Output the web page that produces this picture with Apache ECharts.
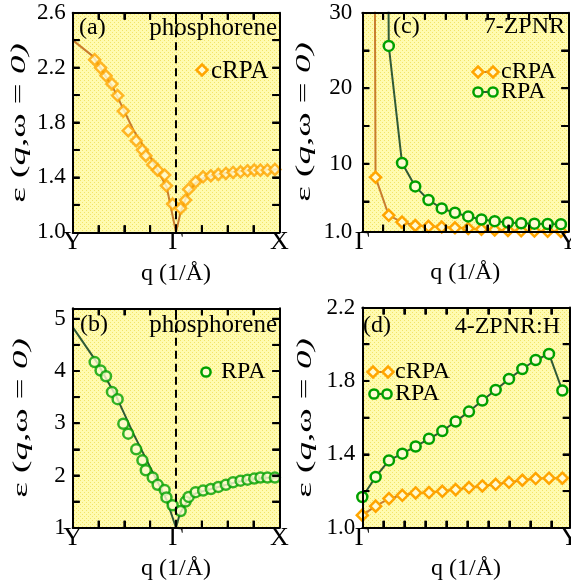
<!DOCTYPE html>
<html><head><meta charset="utf-8">
<script src="https://cdn.jsdelivr.net/npm/echarts@6.0.0/dist/echarts.min.js"></script>
<style>html,body{margin:0;padding:0;background:#fff;}#c{width:571px;height:583px;}</style>
</head><body><div id="c"></div>
<script>
// ---------------- data ----------------
const qPhos = [0.85,1.08,1.29,1.52,1.74,1.96,2.15,2.46,2.70,2.83,3.10,3.29,3.56,3.63,3.87,
               4.18,4.37,4.49,4.76,5.05,5.35,5.64,5.93,6.21,6.50,6.77,7.03,7.27,7.54,7.83];
const epsCRPAPhos = [2.258,2.198,2.140,2.081,1.996,1.883,1.740,1.667,1.599,1.558,1.492,1.453,1.417,1.339,1.206,
                     1.175,1.235,1.313,1.368,1.404,1.412,1.422,1.429,1.436,1.441,1.448,1.453,1.453,1.453,1.458];
const epsRPAPhos = [4.17,4.01,3.90,3.60,3.46,2.99,2.80,2.50,2.29,2.10,1.96,1.82,1.72,1.58,1.43,
                    1.32,1.50,1.59,1.68,1.71,1.74,1.78,1.82,1.87,1.90,1.92,1.94,1.96,1.96,1.96];
const fitCRPAQ   = [0,0.8,1.57,2.35,3.0,3.64,4.0,4.17,4.35,4.5,4.77,5.06,5.5,6.0,6.5,7.0,7.5,8.0];
const fitCRPAEps = [2.40,2.28,2.05,1.745,1.55,1.33,1.0,1.14,1.235,1.30,1.36,1.395,1.415,1.435,1.447,1.455,1.458,1.46];
const fitRPAQ    = [0,0.93,1.70,2.35,2.99,3.64,4.0,4.15,4.39,4.53,4.77,5.06,5.5,6.0,6.5,7.0,7.5,8.0];
const fitRPAEps  = [4.84,4.17,3.50,2.80,2.17,1.53,1.0,1.27,1.47,1.57,1.66,1.70,1.76,1.83,1.89,1.93,1.955,1.965];

const qRibbon = [0,0.0635,0.127,0.1905,0.254,0.3175,0.381,0.4445,0.508,0.5715,0.635,0.6985,0.762,0.8255,0.889,0.9525];
const eps7CRPA = [500,8.2,3.17,2.27,1.82,1.72,1.62,1.52,1.42,1.32,1.24,1.17,1.12,1.08,1.05,1.03];
const eps7RPA  = [1000,300,25.6,10.1,7.0,5.2,4.08,3.51,3.02,2.62,2.40,2.22,2.12,2.06,2.02,2.00];
const eps4CRPA = [1.069,1.118,1.159,1.177,1.190,1.192,1.199,1.208,1.219,1.228,1.237,1.248,1.259,1.268,1.270,1.270];
const eps4RPA  = [1.168,1.277,1.367,1.404,1.443,1.485,1.527,1.579,1.633,1.693,1.751,1.811,1.865,1.914,1.947,1.748];

const phosTickPos = [0,4,8];
const phosTickLabels = ['Y','Γ','X'];
const phosMinorTicks = [1,2,3,4,5,6,7];
const ribbonTickPos = [0,0.988];
const ribbonTickLabels = ['Γ','Y'];
const ribbonMinorTicks = [0.1,0.2,0.3,0.4,0.5,0.6,0.7,0.8,0.9];

const yTicksA = [1.2,1.4,1.6,1.8,2.0,2.2,2.4];
const yLabelsA = [1.0,1.4,1.8,2.2,2.6];
const yTicksB = [1.5,2,2.5,3,3.5,4,4.5,5];
const yLabelsB = [1,2,3,4,5];
const yTicksC = [5,10,15,20,25];
const yLabelsC = [1,10,20,30];
const yTicksD = [1.2,1.4,1.6,1.8,2.0];
const yLabelsD = [1.0,1.4,1.8,2.2];

// ---------------- styling ----------------
const FONT = 'Liberation Serif';
const ORANGE = '#ffa500', ORANGE_LINE = '#c97d2e';
const GREEN = '#00a000', GREEN_LINE = '#2f5a36';
const MARK_FILL = '#fffbd2';
const TICK_LEN = 7;

const pc = document.createElement('canvas');
pc.width = 4; pc.height = 4;
const pctx = pc.getContext('2d');
pctx.fillStyle = '#fffbb0'; pctx.fillRect(0,0,4,4);
pctx.fillStyle = '#f2e468';
pctx.fillRect(0,0,1,1); pctx.fillRect(2,2,1,1);
const bgPattern = {image: pc, repeat: 'repeat'};

const zip = (a,b) => a.map((v,i)=>[v,b[i]]);

const gridBoxes = [
  {left:72.7, top:12.7, width:206.6, height:219.6},
  {left:72.7, top:308.3, width:206.6, height:219.4},
  {left:362.3, top:12.7, width:206, height:219},
  {left:362.3, top:307.5, width:207.5, height:220.3}
];
const grids = gridBoxes.map(g => Object.assign({show:false, containLabel:false, outerBoundsMode:'none'}, g));

const axLine = {show:true, onZero:false, lineStyle:{color:'#000', width:2}};
const axTick = vals => ({show:true, inside:true, length:TICK_LEN, customValues:vals, lineStyle:{color:'#000', width:2}});

const panels = [
  {xmin:0,xmax:8,xt:phosMinorTicks,xlp:phosTickPos,xll:phosTickLabels,ymin:1,ymax:2.6,yt:yTicksA,ylp:yLabelsA,yf:v=>v.toFixed(1),ym:7},
  {xmin:0,xmax:8,xt:phosMinorTicks,xlp:phosTickPos,xll:phosTickLabels,ymin:1,ymax:5.2,yt:yTicksB,ylp:yLabelsB,yf:v=>String(Math.round(v)),ym:7},
  {xmin:0,xmax:0.988,xt:ribbonMinorTicks,xlp:ribbonTickPos,xll:ribbonTickLabels,ymin:1,ymax:30,yt:yTicksC,ylp:yLabelsC,yf:v=>(Math.abs(v-1)<1e-6?'1.0':String(Math.round(v))),ym:10},
  {xmin:0,xmax:0.988,xt:ribbonMinorTicks,xlp:ribbonTickPos,xll:ribbonTickLabels,ymin:1,ymax:2.2,yt:yTicksD,ylp:yLabelsD,yf:v=>v.toFixed(1),ym:7}
];

const xAxes = [], yAxes = [];
panels.forEach((p,i) => {
  const xfmt = v => { let k=0, best=1e9; p.xlp.forEach((pv,j)=>{const d=Math.abs(pv-v); if(d<best){best=d;k=j;}}); return p.xll[k]; };
  xAxes.push({type:'value', gridIndex:i, position:'bottom', min:p.xmin, max:p.xmax, z:10,
    axisLine:axLine, axisTick:axTick(p.xt), splitLine:{show:false},
    axisLabel:{show:true, customValues:p.xlp, formatter:xfmt, showMinLabel:true, showMaxLabel:true, hideOverlap:false,
      fontFamily:FONT, fontWeight:'normal', fontSize:26, color:'#000', margin:10, verticalAlign:'middle'},
    name:'q (1/Å)', nameLocation:'middle', nameGap:41,
    nameTextStyle:{fontFamily:FONT, fontWeight:'normal', fontSize:24, color:'#000', verticalAlign:'middle'}});
  xAxes.push({type:'value', gridIndex:i, position:'top', min:p.xmin, max:p.xmax, z:10,
    axisLine:axLine, axisTick:axTick(p.xt), splitLine:{show:false}, axisLabel:{show:false}});
  yAxes.push({type:'value', gridIndex:i, position:'left', min:p.ymin, max:p.ymax, z:10,
    axisLine:axLine, axisTick:axTick(p.yt), splitLine:{show:false},
    axisLabel:{show:true, customValues:p.ylp, formatter:p.yf, showMinLabel:true, showMaxLabel:true, hideOverlap:false,
      fontFamily:FONT, fontWeight:'normal', fontSize:23, color:'#000', margin:p.ym, verticalAlign:'middle', align:'right'}});
  yAxes.push({type:'value', gridIndex:i, position:'right', min:p.ymin, max:p.ymax, z:10,
    axisLine:axLine, axisTick:axTick(p.yt), splitLine:{show:false}, axisLabel:{show:false}});
});

const dashed = {silent:true, symbol:['none','none'], label:{show:false}, emphasis:{disabled:true}, animation:false,
  lineStyle:{color:'#000', type:[8,5], width:2}, data:[{xAxis:4}]};

const diamondStyle = {color:MARK_FILL, borderColor:ORANGE, borderWidth:2.5};
const circleStyle = {color:MARK_FILL, borderColor:GREEN, borderWidth:2.5};

const series = [
  {type:'line', xAxisIndex:0, yAxisIndex:0, data:zip(fitCRPAQ,fitCRPAEps), showSymbol:false, symbol:'none',
   lineStyle:{color:ORANGE_LINE, width:2}, z:2, markLine:dashed},
  {type:'scatter', xAxisIndex:0, yAxisIndex:0, data:zip(qPhos,epsCRPAPhos), symbol:'diamond', symbolSize:11,
   itemStyle:diamondStyle, z:3},
  {type:'line', xAxisIndex:2, yAxisIndex:2, data:zip(fitRPAQ,fitRPAEps), showSymbol:false, symbol:'none',
   lineStyle:{color:GREEN_LINE, width:2}, z:2, markLine:dashed},
  {type:'scatter', xAxisIndex:2, yAxisIndex:2, data:zip(qPhos,epsRPAPhos), symbol:'circle', symbolSize:10,
   itemStyle:circleStyle, z:3},
  {type:'line', xAxisIndex:4, yAxisIndex:4, data:zip(qRibbon,eps7CRPA), symbol:'diamond', symbolSize:11, showSymbol:true,
   lineStyle:{color:ORANGE_LINE, width:2}, itemStyle:diamondStyle, clip:true, z:3},
  {type:'line', xAxisIndex:4, yAxisIndex:4, data:zip(qRibbon,eps7RPA), symbol:'circle', symbolSize:10, showSymbol:true,
   lineStyle:{color:GREEN_LINE, width:2}, itemStyle:circleStyle, clip:true, z:3},
  {type:'line', xAxisIndex:6, yAxisIndex:6, data:zip(qRibbon,eps4CRPA), symbol:'diamond', symbolSize:11, showSymbol:true,
   lineStyle:{color:ORANGE_LINE, width:2}, itemStyle:diamondStyle, clip:false, z:3},
  {type:'line', xAxisIndex:6, yAxisIndex:6, data:zip(qRibbon,eps4RPA), symbol:'circle', symbolSize:10, showSymbol:true,
   lineStyle:{color:GREEN_LINE, width:2}, itemStyle:circleStyle, clip:false, z:3}
].map(s => Object.assign({animation:false, emphasis:{disabled:true}, silent:true}, s));

// ---------------- annotations / legends ----------------
const txt = (x,y,text,align,size) => ({type:'text', x, y, z:100, silent:true,
  style:{text, fontFamily:FONT, fontWeight:'normal', fontSize:size||24, fill:'#000', align:align||'left', verticalAlign:'middle',
         textAlign:align||'left', textVerticalAlign:'middle'}});
const yTitle = (x,y) => ({type:'text', x, y, rotation:Math.PI/2, scaleX:1.85, scaleY:1, z:100, silent:true,
  style:{text:'{n|ε (}{i|q}{n|,ω = }{i|0)}', align:'center', verticalAlign:'middle', textAlign:'center', textVerticalAlign:'middle',
    fill:'#000', fontFamily:FONT, fontWeight:'normal', fontSize:20,
    rich:{n:{fontFamily:FONT, fontWeight:'normal', fontSize:20, fill:'#000', color:'#000'},
          i:{fontFamily:FONT, fontWeight:'normal', fontSize:20, fontStyle:'italic', fill:'#000', color:'#000'}}}});
const diamond = (cx,cy) => ({type:'polygon', z:101, silent:true,
  shape:{points:[[cx,cy-5.5],[cx+5.5,cy],[cx,cy+5.5],[cx-5.5,cy]]},
  style:{fill:MARK_FILL, stroke:ORANGE, lineWidth:2.5}});
const circ = (cx,cy) => ({type:'circle', z:101, silent:true, shape:{cx,cy,r:4.6},
  style:{fill:MARK_FILL, stroke:GREEN, lineWidth:2.5}});
const seg = (x1,x2,y,c) => ({type:'line', z:100, silent:true, shape:{x1,y1:y,x2,y2:y}, style:{stroke:c, lineWidth:2}});
const bgRect = g => ({type:'rect', z:-100, silent:true, shape:{x:g.left, y:g.top, width:g.width, height:g.height},
  style:{fill:bgPattern}});

// inward mirror ticks on all four sides, as small filled bars (linear mapping of each panel's axes)
const tkRect = (x,y,w,h) => ({type:'rect', z:120, silent:true, shape:{x, y, width:w, height:h}, style:{fill:'#000', stroke:null}});
const tickEls = [];
panels.forEach((p,i) => {
  const g = gridBoxes[i];
  const gx = x => g.left + (x - p.xmin) / (p.xmax - p.xmin) * g.width;
  const gy = y => g.top + g.height - (y - p.ymin) / (p.ymax - p.ymin) * g.height;
  const bottom = g.top + g.height, top = g.top, left = g.left, right = g.left + g.width;
  p.xt.forEach(x => {
    const X = gx(x);
    tickEls.push(tkRect(X - 1, bottom - TICK_LEN, 2, TICK_LEN));
    tickEls.push(tkRect(X - 1, top, 2, TICK_LEN));
  });
  p.yt.forEach(y => {
    const Y = gy(y);
    tickEls.push(tkRect(left, Y - 1, TICK_LEN, 2));
    tickEls.push(tkRect(right - TICK_LEN, Y - 1, TICK_LEN, 2));
  });
});

const graphics = [
  ...gridBoxes.map(bgRect),
  txt(79,28,'(a)'), txt(277,28,'phosphorene','right',25),
  txt(80,325,'(b)'), txt(277,325,'phosphorene','right',25),
  txt(393,27,'(c)'), txt(565,27,'7-ZPNR','right'),
  txt(363,326,'(d)'), txt(560,327,'4-ZPNR:H','right'),
  yTitle(20,123), yTitle(22,418), yTitle(305,122), yTitle(306,418),
  diamond(202,70), txt(211,71,'cRPA','left',25),
  circ(206,372), txt(221,372,'RPA'),
  seg(478,493,72,ORANGE_LINE), diamond(478,72), diamond(493,72), txt(501,72,'cRPA'),
  seg(478,493,92,GREEN_LINE), circ(478,92), circ(493,92), txt(501,92,'RPA'),
  seg(373,388,372,ORANGE_LINE), diamond(373,372), diamond(388,372), txt(395,372,'cRPA'),
  seg(374,387,394,GREEN_LINE), circ(374,394), circ(387,394), txt(395,394,'RPA'),
  ...tickEls
];

const chart = echarts.init(document.getElementById('c'), null, {renderer:'canvas', width:571, height:583});
chart.setOption({
  animation:false,
  backgroundColor:'#fff',
  grid:grids, xAxis:xAxes, yAxis:yAxes, series, graphic:{elements:graphics}
});
</script></body></html>
